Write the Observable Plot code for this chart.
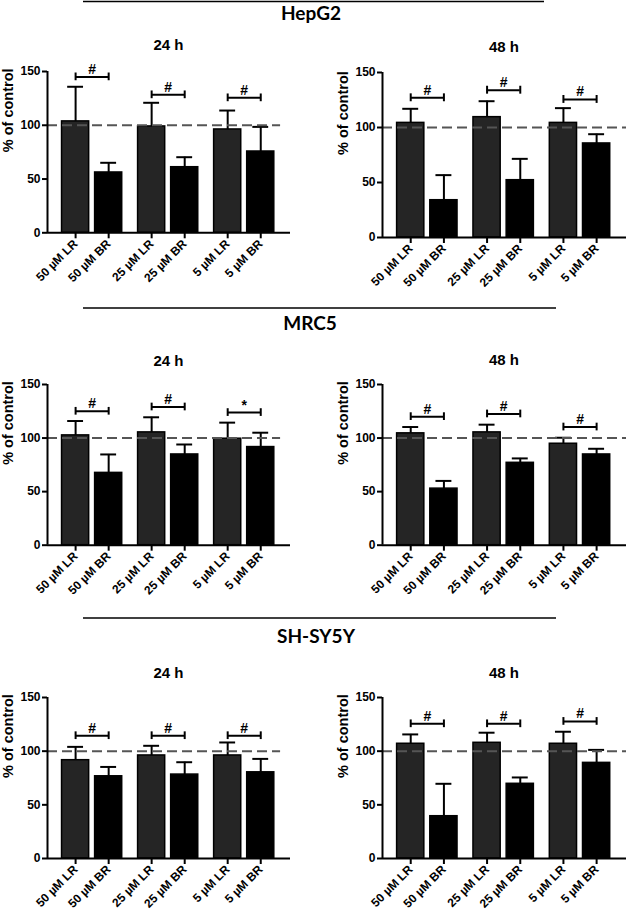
<!DOCTYPE html>
<html><head><meta charset="utf-8">
<script src="https://cdn.jsdelivr.net/npm/d3@7"></script>
<script src="https://cdn.jsdelivr.net/npm/@observablehq/plot@0.6"></script>
<style>
body{margin:0;background:#fff;}
#root{position:relative;width:628px;height:916px;overflow:hidden;background:#fff;}
.panel{position:absolute;}
.panel text, .ttl{font-family:"Liberation Sans", Arial, sans-serif !important;}
#overlay{position:absolute;left:0;top:0;}
</style></head><body><div id="root"></div>
<script>
// ---------- data ----------
const cellLines = ["HepG2", "MRC5", "SH-SY5Y"];
const timePoints = ["24 h", "48 h"];
const conditions = ["50 \u00B5M LR", "50 \u00B5M BR", "25 \u00B5M LR", "25 \u00B5M BR", "5 \u00B5M LR", "5 \u00B5M BR"];
const yTicks = [0, 50, 100, 150];
const controlLevel = 100;

const hepg2_24h_mean = [103.6, 56.1, 98.9, 61.0, 96.1, 75.6];
const hepg2_24h_sd = [32.2, 9.0, 22.0, 9.3, 17.6, 22.9];
const hepg2_24h_bracket = [145.0, 128.3, 125.5];
const hepg2_24h_sig = ["#", "#", "#"];

const hepg2_48h_mean = [104.2, 33.9, 109.4, 52.1, 104.2, 85.5];
const hepg2_48h_sd = [12.8, 22.8, 14.5, 19.4, 13.4, 8.4];
const hepg2_48h_bracket = [127.0, 133.9, 125.5];
const hepg2_48h_sig = ["#", "#", "#"];

const mrc5_24h_mean = [102.5, 67.5, 105.3, 84.7, 99.4, 91.6];
const mrc5_24h_sd = [13.4, 17.2, 14.1, 9.3, 15.0, 13.4];
const mrc5_24h_bracket = [125.0, 129.0, 123.8];
const mrc5_24h_sig = ["#", "#", "*"];

const mrc5_48h_mean = [104.4, 52.8, 105.3, 76.9, 94.7, 84.7];
const mrc5_48h_sd = [5.9, 7.2, 7.2, 4.1, 5.6, 5.3];
const mrc5_48h_bracket = [120.0, 122.5, 110.3];
const mrc5_48h_sig = ["#", "#", "#"];

const shsy5y_24h_mean = [91.6, 76.6, 96.0, 78.2, 96.0, 80.3];
const shsy5y_24h_sd = [12.4, 8.7, 9.0, 11.5, 12.1, 12.5];
const shsy5y_24h_bracket = [114.4, 114.4, 114.4];
const shsy5y_24h_sig = ["#", "#", "#"];

const shsy5y_48h_mean = [106.9, 39.4, 107.8, 69.6, 106.9, 89.1];
const shsy5y_48h_sd = [8.7, 30.2, 9.4, 5.9, 11.2, 12.1];
const shsy5y_48h_bracket = [125.5, 125.5, 127.7];
const shsy5y_48h_sig = ["#", "#", "#"];

// ---------- layout ----------
const panelData = [
  [[hepg2_24h_mean, hepg2_24h_sd, hepg2_24h_bracket, hepg2_24h_sig], [hepg2_48h_mean, hepg2_48h_sd, hepg2_48h_bracket, hepg2_48h_sig]],
  [[mrc5_24h_mean, mrc5_24h_sd, mrc5_24h_bracket, mrc5_24h_sig], [mrc5_48h_mean, mrc5_48h_sd, mrc5_48h_bracket, mrc5_48h_sig]],
  [[shsy5y_24h_mean, shsy5y_24h_sd, shsy5y_24h_bracket, shsy5y_24h_sig], [shsy5y_48h_mean, shsy5y_48h_sd, shsy5y_48h_bracket, shsy5y_48h_sig]]
];
const sectionLayout = [
  {lineY: 1.5, x1: 83, x2: 544, titleY: 20, cx: 311},
  {lineY: 308, x1: 83, x2: 556, titleY: 330, cx: 310},
  {lineY: 618, x1: 83, x2: 556, titleY: 643, cx: 316}
];
const rowLayout = [
  {y150: [71, 71.7], y0: [232.3, 236.7], titleY: [50, 51.5]},
  {y150: [384.3, 384.3], y0: [545, 545], titleY: [366, 365]},
  {y150: [697.3, 697.3], y0: [858.3, 858.3], titleY: [678, 678]}
];
const groupStep = 2.3;
const positions = conditions.map((c, i) => Math.floor(i / 2) * groupStep + (i % 2));
const labelByPos = new Map(positions.map((p, i) => [p, conditions[i]]));
const xDomain = [-0.85, 6.5];
const FONT = "Liberation Sans, Arial, sans-serif";

const root = document.getElementById("root");

function makePanel(row, col) {
  const [mean, sd, bracket, sig] = panelData[row][col];
  const L = rowLayout[row];
  const ml = col === 0 ? 47 : 68, mr = col === 0 ? 24 : 2;
  const mt = 20, mb = 75;
  const ph = L.y0[col] - L.y150[col];
  const bars = conditions.map((c, i) => ({c, pos: positions[i], mean: mean[i], sd: sd[i], lr: i % 2 === 0}));
  const br = [0, 1, 2].map(g => ({x1: positions[2 * g], x2: positions[2 * g + 1], y: bracket[g], s: sig[g]}));
  const dashEnd = col === 0 ? 6.2 : xDomain[1];
  const plot = Plot.plot({
    width: 314,
    height: ph + mt + mb,
    marginLeft: ml, marginRight: mr, marginTop: mt, marginBottom: mb,
    style: {fontFamily: FONT, background: "transparent", overflow: "visible"},
    x: {type: "linear", domain: xDomain},
    y: {domain: [0, 150]},
    marks: [
      Plot.rectY(bars.filter(d => d.lr), {x1: d => d.pos - 0.41, x2: d => d.pos + 0.41, y1: 0, y2: "mean", fill: "#252525", stroke: "#000", strokeWidth: 1.5}),
      Plot.rectY(bars.filter(d => !d.lr), {x1: d => d.pos - 0.41, x2: d => d.pos + 0.41, y1: 0, y2: "mean", fill: "#000", stroke: "#000", strokeWidth: 1.5}),
      Plot.ruleX(bars, {x: "pos", y1: "mean", y2: d => d.mean + d.sd, stroke: "#000", strokeWidth: 2}),
      Plot.ruleY(bars, {y: d => d.mean + d.sd, x1: d => d.pos - 0.24, x2: d => d.pos + 0.24, stroke: "#000", strokeWidth: 2}),
      Plot.ruleY([controlLevel], {x1: xDomain[0], x2: dashEnd, stroke: "#555", strokeWidth: 2, strokeDasharray: "10,5"}),
      Plot.ruleY(br, {y: "y", x1: "x1", x2: "x2", stroke: "#000", strokeWidth: 2}),
      Plot.ruleX(br, {x: "x1", y1: d => d.y - 3.6, y2: d => d.y + 3.6, stroke: "#000", strokeWidth: 2}),
      Plot.ruleX(br, {x: "x2", y1: d => d.y - 3.6, y2: d => d.y + 3.6, stroke: "#000", strokeWidth: 2}),
      Plot.text(br, {x: d => (d.x1 + d.x2) / 2, y: "y", text: "s", dy: -3, lineAnchor: "bottom", fontWeight: "bold", fontSize: 14, fill: "#000"}),
      Plot.ruleY([0], {stroke: "#000", strokeWidth: 2}),
      Plot.ruleX([xDomain[0]], {y1: 0, y2: 150, stroke: "#000", strokeWidth: 2}),
      Plot.axisY(yTicks, {tickSize: 5, strokeWidth: 2, fontSize: 12, fontWeight: "bold", tickPadding: 2, label: null, fill: "#000"}),
      Plot.axisX(positions, {tickFormat: d => labelByPos.get(d), tickRotate: -45, tickSize: 6, strokeWidth: 2, fontSize: 12, fontWeight: "bold", tickPadding: 3, label: null, fill: "#000"}),
      Plot.text(["% of control"], {text: d => d, frameAnchor: "left", rotate: -90, dx: -39.5, fontWeight: "bold", fontSize: 14.5, fill: "#000"})
    ]
  });
  plot.classList.add("panel");
  plot.style.left = (col * 314) + "px";
  plot.style.top = (L.y150[col] - mt) + "px";
  root.appendChild(plot);
}

for (let r = 0; r < 3; r++) for (let c = 0; c < 2; c++) makePanel(r, c);

// overlay: section titles, separators, time-point titles
const svg = d3.select(root).append("svg").attr("id", "overlay").attr("width", 628).attr("height", 916)
  .style("pointer-events", "none");
sectionLayout.forEach((s, i) => {
  svg.append("line").attr("x1", s.x1).attr("x2", s.x2).attr("y1", s.lineY).attr("y2", s.lineY)
    .attr("stroke", "#000").attr("stroke-width", 1.5);
  svg.append("text").attr("x", s.cx).attr("y", s.titleY).attr("text-anchor", "middle")
    .attr("font-family", "Lato, 'Open Sans', sans-serif").attr("font-weight", "bold").attr("font-size", 19)
    .text(cellLines[i]);
  const L = rowLayout[i];
  [168.5, 504].forEach((cx, c) => {
    svg.append("text").attr("class", "ttl").attr("x", cx).attr("y", L.titleY[c]).attr("text-anchor", "middle")
      .attr("font-weight", "bold").attr("font-size", 15)
      .text(timePoints[c]);
  });
});
</script></body></html>
